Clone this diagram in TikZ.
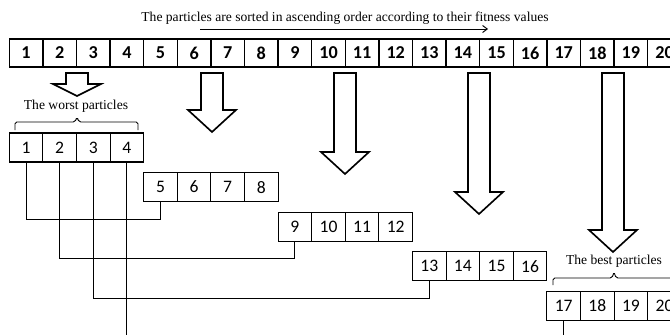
\documentclass[tikz,border=0pt]{standalone}
\usepackage{fontspec}
\setmainfont{Liberation Serif}
\newfontfamily\cellfont{Carlito}
\usetikzlibrary{arrows.meta,positioning,calc}

\tikzset{
  topcell/.style={draw, line width=1.2pt, minimum width=1.008cm, minimum height=0.84cm,
    inner sep=0pt, font=\cellfont\fontsize{15.5}{15.5}\selectfont\bfseries},
  grpcell/.style={draw, line width=0.9pt, minimum width=1.008cm, minimum height=0.87cm,
    inner sep=0pt, font=\cellfont\fontsize{15}{15}\selectfont},
  link/.style={line width=1pt},
  hollow/.style={draw, line width=1.4pt, fill=white, line join=miter},
  lbl/.style={font=\fontsize{11.6}{13}\selectfont, inner sep=0pt},
}

% hollow block arrow: centre x, top y, wing y, tip y
\newcommand{\blockarrow}[4]{%
  \draw[hollow] (#1-11,#2) -- (#1+11,#2) -- (#1+11,#3) -- (#1+24,#3)
    -- (#1,#4) -- (#1-24,#3) -- (#1-11,#3) -- cycle;}

\begin{document}
\begin{tikzpicture}[x=0.03cm, y=-0.03cm]
  \useasboundingbox (0,0) rectangle (670,334);
  \clip (0,0) rectangle (670,334);

  % title and its arrow
  \node[lbl] (title) at (345,18) {The particles are sorted in ascending order according to their fitness values};
  \coordinate (sortA) at (200,29);
  \coordinate (sortB) at (488,29);
  \draw[line width=0.8pt, -{Straight Barb[length=4pt, width=6pt]}] (sortA) -- (sortB);

  % sorted row
  \foreach \n in {1,...,20}
    \node[topcell] (t\n) at ({26.1+33.6*(\n-1)},53) {\n};

  % the five groups
  \foreach \n in {1,...,20}{
    \pgfmathtruncatemacro{\grp}{(\n-1)/4}
    \node[grpcell] (g\n) at ({26.1+33.6*(\n-1)},{147.5+39.6*\grp}) {\n};
  }

  % block arrows
  \blockarrow{77}{73}{84}{96}
  \foreach \cx/\wy in {212/110, 345/152, 479/192, 613/230}{
    \blockarrow{\cx}{73}{\wy}{\wy+22}
  }

  % braces and labels
  \node[lbl] (worst) at (76,106) {The worst particles};
  \draw[line width=0.8pt, rounded corners=1.5pt]
    (15,130) -- (15,122) -- (75,122) -- (77,117) -- (79,122) -- (138,122) -- (138,130);
  \node[lbl] (best) at (614,261) {The best particles};
  \draw[line width=0.8pt, rounded corners=1.5pt]
    (553,285) -- (553,278) -- (612,278) -- (614,272) -- (616,278) -- (675,278) -- (675,285);

  % connectors
  \foreach \a/\b in {1/5, 2/9, 3/13}
    \draw[link] (g\b.south) -- ++(0,17) -| (g\a.south);
  \coordinate (bot) at (0,340);
  \draw[link] (g4.south) -- (g4.south |- bot);
  \draw[link] (g17.south) -- (g17.south |- bot);
\end{tikzpicture}
\end{document}
